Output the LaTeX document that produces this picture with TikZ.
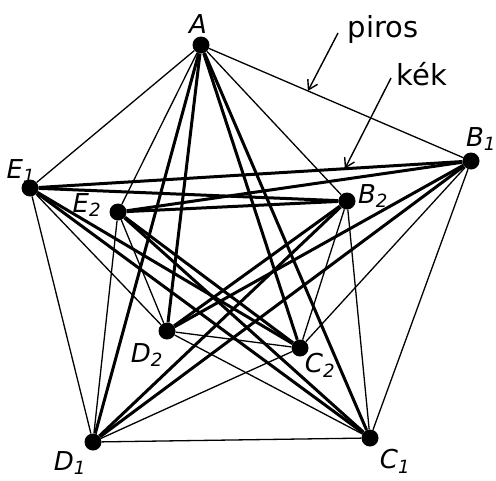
\documentclass[tikz,border=0pt]{standalone}
\usepackage{fontspec}
\setmainfont{DejaVu Sans}
\usetikzlibrary{arrows.meta,calc}
\begin{document}
\begin{tikzpicture}[x=1pt,y=-1pt,
  vtx/.style={circle,fill=black,inner sep=0pt,minimum size=17pt},
  rededge/.style={line width=1.3pt},
  blueedge/.style={line width=3pt},
  lbl/.style={font=\fontsize{26}{26}\selectfont\itshape,inner sep=0pt},
  note/.style={font=\fontsize{29}{29}\selectfont,inner sep=0pt},
  pointer/.style={line width=1.4pt,-{Straight Barb[length=9pt,width=11pt]}}]
\useasboundingbox (0,0) rectangle (496,480);

% vertices: A and the five-cycle classes B, C, D, E, each doubled
\node[vtx] (A)  at (201,45) {};
\node[vtx] (B1) at (471,161) {};
\node[vtx] (C1) at (370,438) {};
\node[vtx] (D1) at (93,442) {};
\node[vtx] (E1) at (30,188) {};
\node[vtx] (B2) at (347,201) {};
\node[vtx] (C2) at (300,348) {};
\node[vtx] (D2) at (167,331) {};
\node[vtx] (E2) at (118,212) {};

% red edges (thin): classes adjacent on the pentagon A-B-C-D-E
\foreach \u/\v in {A/B1,A/B2,A/E1,A/E2,
                   B1/C1,B1/C2,B2/C1,B2/C2,
                   C1/D1,C1/D2,C2/D1,C2/D2,
                   D1/E1,D1/E2,D2/E1,D2/E2}
  \draw[rededge] (\u) -- (\v);

% blue edges (thick): classes on the pentagram A-C-E-B-D
\foreach \u/\v in {A/C1,A/C2,A/D1,A/D2,
                   C1/E1,C1/E2,C2/E1,C2/E2,
                   E1/B1,E1/B2,E2/B1,E2/B2,
                   B1/D1,B1/D2,B2/D1,B2/D2}
  \draw[blueedge] (\u) -- (\v);

% vertex labels
\node[lbl] (lA)  at (198,24)  {A};
\node[lbl] (lB1) at (481,139) {B\textsubscript{1}};
\node[lbl] (lC1) at (395,461) {C\textsubscript{1}};
\node[lbl] (lD1) at (70,463)  {D\textsubscript{1}};
\node[lbl] (lE1) at (21,171)  {E\textsubscript{1}};
\node[lbl] (lB2) at (373,196) {B\textsubscript{2}};
\node[lbl] (lC2) at (320,365) {C\textsubscript{2}};
\node[lbl] (lD2) at (147,355) {D\textsubscript{2}};
\node[lbl] (lE2) at (87,205)  {E\textsubscript{2}};

% colour legend with pointers onto sample edges
\node[note] (piros) at (383,29) {piros};
\node[note] (kek)   at (422,74) {kék};
\coordinate (pirosTail) at (338,33);
\coordinate (pirosTip)  at ($(A)!0.396!(B1)$);
\coordinate (kekTail)   at (391,78);
\coordinate (kekTip)    at ($(E1)!0.714!(B1)$);
\draw[pointer] (pirosTail) -- (pirosTip);
\draw[pointer] (kekTail) -- (kekTip);
\end{tikzpicture}
\end{document}
